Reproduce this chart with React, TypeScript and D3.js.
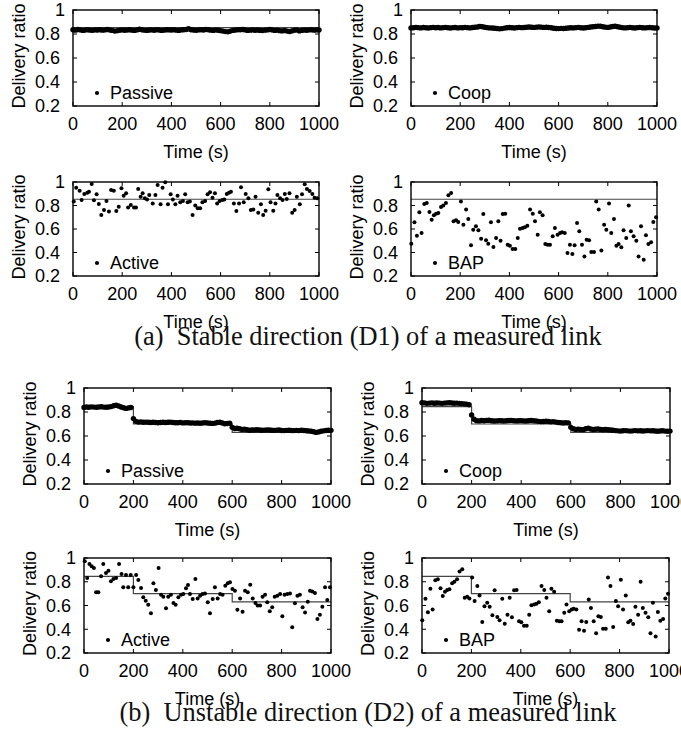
import React from "react";
import * as d3 from "d3";

// ---------- DATA ----------
const xTicks = [0, 200, 400, 600, 800, 1000];
const yTicks = [0.2, 0.4, 0.6, 0.8, 1];
const yTickLabels = ["0.2", "0.4", "0.6", "0.8", "1"];
const xDomain = [0, 1000];
const yDomain = [0.2, 1];
const sampleStep = 10; // seconds between dense samples

// Stable direction (D1): true delivery ratio
const trueD1 = [
  [0, 0.853],
  [1000, 0.853],
];
// Unstable direction (D2): true delivery ratio steps
const trueD2 = [
  [0, 0.845],
  [200, 0.7],
  [600, 0.63],
  [1000, 0.63],
];

const passiveD1 = [
  0.835, 0.832, 0.838, 0.834, 0.83, 0.833, 0.836, 0.832, 0.831, 0.834,
  0.833, 0.835, 0.832, 0.834, 0.838, 0.833, 0.83, 0.824, 0.828, 0.832,
  0.834, 0.831, 0.833, 0.835, 0.832, 0.83, 0.834, 0.84, 0.835, 0.832,
  0.83, 0.833, 0.834, 0.831, 0.835, 0.833, 0.83, 0.832, 0.836, 0.834,
  0.833, 0.835, 0.832, 0.83, 0.834, 0.836, 0.838, 0.844, 0.836, 0.833,
  0.831, 0.834, 0.836, 0.833, 0.838, 0.835, 0.832, 0.83, 0.834, 0.831,
  0.828, 0.824, 0.82, 0.818, 0.824, 0.83, 0.833, 0.835, 0.836, 0.838,
  0.834, 0.83, 0.832, 0.834, 0.831, 0.833, 0.83, 0.829, 0.832, 0.834,
  0.837, 0.834, 0.83, 0.832, 0.828, 0.826, 0.829, 0.824, 0.82, 0.826,
  0.832, 0.834, 0.826, 0.83, 0.833, 0.831, 0.834, 0.836, 0.832, 0.834, 0.833,
];

const coopD1 = [
  0.85, 0.852, 0.855, 0.853, 0.851, 0.854, 0.852, 0.85, 0.853, 0.855,
  0.852, 0.854, 0.851, 0.853, 0.855, 0.852, 0.85, 0.853, 0.854, 0.851,
  0.853, 0.852, 0.855, 0.853, 0.851, 0.854, 0.856, 0.858, 0.862, 0.86,
  0.856, 0.853, 0.851, 0.85, 0.848, 0.846, 0.843, 0.845, 0.849, 0.852,
  0.854, 0.852, 0.85, 0.853, 0.855, 0.853, 0.854, 0.856, 0.858, 0.856,
  0.855, 0.857, 0.859, 0.857, 0.855, 0.856, 0.854, 0.852, 0.848, 0.846,
  0.845, 0.847, 0.846, 0.848, 0.85, 0.852, 0.851, 0.853, 0.855, 0.852,
  0.85, 0.852, 0.855, 0.858, 0.86, 0.863, 0.866, 0.864, 0.86, 0.857,
  0.855, 0.858, 0.862, 0.864, 0.86, 0.856, 0.853, 0.851, 0.853, 0.855,
  0.852, 0.85, 0.853, 0.855, 0.852, 0.851, 0.853, 0.854, 0.852, 0.85, 0.851,
];

const activeD1 = [
  [3, 0.833], [13, 0.952], [27, 0.926], [35, 0.847], [46, 0.898], [58, 0.909],
  [65, 0.918], [76, 0.983], [85, 0.844], [96, 0.895], [105, 0.813], [115, 0.719],
  [126, 0.762], [136, 0.838], [146, 0.748], [155, 0.932], [166, 0.926], [176, 0.753],
  [186, 0.79], [197, 0.946], [206, 0.884], [216, 0.904], [224, 0.782], [235, 0.804],
  [248, 0.782], [256, 0.782], [265, 0.941], [275, 0.875], [283, 0.904], [292, 0.861],
  [301, 0.852], [310, 0.889], [324, 0.816], [335, 0.889], [344, 0.974], [356, 0.81],
  [364, 0.952], [375, 0.997], [386, 0.81], [397, 0.895], [406, 0.852], [416, 0.81],
  [425, 0.884], [436, 0.827], [447, 0.838], [456, 0.895], [466, 0.827], [475, 0.833],
  [486, 0.719], [497, 0.799], [507, 0.776], [517, 0.776], [526, 0.827], [537, 0.838],
  [547, 0.895], [557, 0.912], [567, 0.867], [577, 0.904], [586, 0.818], [596, 0.838],
  [607, 0.847], [615, 0.852], [625, 0.898], [634, 0.909], [642, 0.918], [654, 0.818],
  [664, 0.753], [675, 0.818], [683, 0.955], [694, 0.827], [702, 0.898], [713, 0.861],
  [723, 0.762], [733, 0.767], [742, 0.875], [753, 0.739], [764, 0.81], [773, 0.719],
  [783, 0.756], [794, 0.938], [803, 0.827], [814, 0.756], [823, 0.818], [831, 0.889],
  [842, 0.861], [852, 0.847], [861, 0.898], [869, 0.855], [880, 0.904], [891, 0.739],
  [901, 0.762], [910, 0.875], [922, 0.81], [931, 0.895], [942, 0.98], [951, 0.94],
  [962, 0.923], [973, 0.898], [982, 0.867], [993, 0.861],
];

const bap = [
  [1, 0.475], [14, 0.657], [24, 0.543], [34, 0.742], [43, 0.566], [54, 0.813],
  [64, 0.821], [75, 0.745], [84, 0.679], [93, 0.716], [102, 0.73], [111, 0.736],
  [122, 0.787], [131, 0.799], [142, 0.821], [152, 0.887], [163, 0.906], [173, 0.665],
  [183, 0.674], [192, 0.66], [203, 0.835], [213, 0.637], [224, 0.765], [233, 0.685],
  [244, 0.461], [253, 0.594], [264, 0.623], [274, 0.589], [285, 0.518], [294, 0.728],
  [305, 0.504], [314, 0.475], [325, 0.657], [335, 0.447], [346, 0.523], [355, 0.665],
  [364, 0.501], [373, 0.728], [383, 0.73], [393, 0.467], [402, 0.458], [413, 0.43],
  [424, 0.43], [434, 0.523], [443, 0.603], [454, 0.608], [463, 0.614], [473, 0.628],
  [484, 0.765], [495, 0.73], [504, 0.665], [515, 0.552], [524, 0.742], [535, 0.716],
  [546, 0.472], [556, 0.467], [565, 0.467], [576, 0.538], [585, 0.608], [596, 0.552],
  [606, 0.566], [614, 0.572], [625, 0.566], [636, 0.396], [646, 0.467], [656, 0.387],
  [665, 0.461], [675, 0.651], [684, 0.58], [695, 0.467], [705, 0.367], [714, 0.509],
  [724, 0.504], [733, 0.404], [744, 0.404], [753, 0.835], [763, 0.765], [774, 0.418],
  [785, 0.637], [794, 0.594], [805, 0.816], [814, 0.566], [825, 0.685], [835, 0.458],
  [844, 0.472], [855, 0.444], [864, 0.589], [875, 0.523], [885, 0.799], [894, 0.58],
  [905, 0.538], [916, 0.501], [925, 0.367], [935, 0.623], [946, 0.339], [955, 0.546],
  [965, 0.472], [976, 0.487], [985, 0.66], [996, 0.699],
];

const passiveD2 = [
  0.838, 0.842, 0.84, 0.843, 0.841, 0.84, 0.842, 0.844, 0.841, 0.84,
  0.842, 0.845, 0.852, 0.856, 0.85, 0.842, 0.836, 0.83, 0.834, 0.838,
  0.745, 0.722, 0.716, 0.718, 0.714, 0.716, 0.715, 0.713, 0.715, 0.712,
  0.711, 0.713, 0.714, 0.712, 0.715, 0.716, 0.713, 0.711, 0.71, 0.712,
  0.709, 0.711, 0.71, 0.708, 0.709, 0.707, 0.708, 0.706, 0.708, 0.71,
  0.708, 0.706, 0.705, 0.707, 0.712, 0.714, 0.708, 0.702, 0.704, 0.706,
  0.672, 0.662, 0.664, 0.66, 0.655, 0.657, 0.653, 0.648, 0.651, 0.65,
  0.652, 0.65, 0.648, 0.649, 0.651, 0.65, 0.648, 0.647, 0.649, 0.65,
  0.646, 0.645, 0.647, 0.648, 0.646, 0.645, 0.647, 0.645, 0.648, 0.646,
  0.644, 0.642, 0.64, 0.636, 0.63, 0.634, 0.64, 0.643, 0.646, 0.648, 0.647,
];

const coopD2 = [
  0.878, 0.876, 0.872, 0.874, 0.876, 0.873, 0.875, 0.874, 0.872, 0.874,
  0.876, 0.877, 0.875, 0.873, 0.874, 0.872, 0.87, 0.868, 0.866, 0.86,
  0.775, 0.74, 0.728, 0.726, 0.729, 0.727, 0.73, 0.731, 0.727, 0.725,
  0.726, 0.728, 0.727, 0.725, 0.727, 0.729, 0.73, 0.728, 0.726, 0.727,
  0.728, 0.726, 0.725, 0.727, 0.729, 0.727, 0.725, 0.722, 0.72, 0.721,
  0.723, 0.721, 0.718, 0.72, 0.716, 0.712, 0.71, 0.708, 0.711, 0.709,
  0.672, 0.66, 0.655, 0.657, 0.654, 0.653, 0.66, 0.666, 0.658, 0.654,
  0.656, 0.658, 0.655, 0.652, 0.654, 0.652, 0.65, 0.648, 0.645, 0.643,
  0.641, 0.644, 0.645, 0.643, 0.641, 0.643, 0.645, 0.643, 0.644, 0.642,
  0.643, 0.645, 0.643, 0.644, 0.642, 0.64, 0.642, 0.644, 0.641, 0.64, 0.641,
];

const activeD2 = [
  [3, 0.972], [13, 0.832], [22, 0.949], [31, 0.93], [40, 0.916], [49, 0.711],
  [58, 0.711], [69, 0.846], [78, 0.949], [89, 0.874], [99, 0.893], [109, 0.804],
  [119, 0.823], [130, 0.832], [142, 0.949], [152, 0.865], [159, 0.753], [170, 0.857],
  [179, 0.753], [189, 0.857], [200, 0.753], [211, 0.857], [220, 0.815], [231, 0.747],
  [240, 0.669], [250, 0.641], [260, 0.607], [271, 0.534], [281, 0.787], [291, 0.731],
  [302, 0.916], [312, 0.691], [321, 0.674], [332, 0.576], [341, 0.674], [352, 0.691],
  [362, 0.621], [371, 0.607], [382, 0.669], [393, 0.691], [402, 0.697], [413, 0.745],
  [421, 0.773], [429, 0.697], [440, 0.655], [451, 0.823], [460, 0.66], [470, 0.683],
  [480, 0.697], [490, 0.702], [501, 0.627], [510, 0.534], [521, 0.655], [530, 0.753],
  [541, 0.66], [551, 0.697], [561, 0.691], [572, 0.767], [582, 0.787], [591, 0.795],
  [601, 0.739], [611, 0.725], [621, 0.565], [632, 0.66], [642, 0.548], [652, 0.725],
  [663, 0.711], [673, 0.775], [683, 0.66], [694, 0.621], [703, 0.599], [713, 0.599],
  [723, 0.674], [733, 0.691], [742, 0.627], [752, 0.551], [762, 0.585], [772, 0.674],
  [783, 0.683], [794, 0.697], [803, 0.509], [812, 0.691], [823, 0.697], [834, 0.702],
  [843, 0.416], [854, 0.618], [864, 0.683], [874, 0.691], [885, 0.585], [895, 0.542],
  [906, 0.632], [915, 0.725], [924, 0.717], [935, 0.705], [945, 0.486], [955, 0.523],
  [965, 0.59], [976, 0.753], [985, 0.646], [996, 0.753],
];

const captionA = "(a)\u00a0\u00a0Stable direction (D1) of a measured link";
const captionB = "(b)\u00a0\u00a0Unstable direction (D2) of a measured link";
const yLabel = "Delivery ratio";
const xLabel = "Time (s)";

// ---------- helpers ----------
const dense = (vals: number[]) => vals.map((v, i) => [i * sampleStep, v]);

const SANS = "'Liberation Sans', Arial, Helvetica, sans-serif";
const SERIF = "'Liberation Serif', 'Times New Roman', serif";
const FS = 18;

type PanelProps = {
  left: number;
  right: number;
  top: number;
  bottom: number;
  points: number[][];
  truth: number[][];
  step: boolean;
  name: string;
  r: number;
};

function Panel({ left, right, top, bottom, points, truth, step, name, r }: PanelProps) {
  const x = d3.scaleLinear().domain(xDomain).range([left, right]);
  const y = d3.scaleLinear().domain(yDomain).range([bottom, top]);
  const line = d3
    .line<number[]>()
    .x((d) => x(d[0]))
    .y((d) => y(d[1]))
    .curve(step ? d3.curveStepAfter : d3.curveLinear);
  const tl = 4;
  return (
    <g>
      <path d={line(truth) || ""} fill="none" stroke="#444" strokeWidth={1.2} />
      {points.map((p, i) => (
        <circle key={i} cx={x(p[0])} cy={y(p[1])} r={r} fill="#000" />
      ))}
      <rect
        x={left}
        y={top}
        width={right - left}
        height={bottom - top}
        fill="none"
        stroke="#000"
        strokeWidth={1.4}
      />
      {xTicks.map((t) => (
        <g key={"xt" + t}>
          <line x1={x(t)} x2={x(t)} y1={bottom} y2={bottom - tl} stroke="#000" />
          <line x1={x(t)} x2={x(t)} y1={top} y2={top + tl} stroke="#000" />
          <text
            x={x(t)}
            y={bottom + 24}
            textAnchor="middle"
            fontFamily={SANS}
            fontSize={FS}
          >
            {t}
          </text>
        </g>
      ))}
      {yTicks.map((t, i) => (
        <g key={"yt" + t}>
          <line x1={left} x2={left + tl} y1={y(t)} y2={y(t)} stroke="#000" />
          <line x1={right} x2={right - tl} y1={y(t)} y2={y(t)} stroke="#000" />
          <text
            x={left - 8 - yTickLabels[i].length * 0.556 * FS}
            y={y(t)}
            dy="0.36em"
            textAnchor="start"
            fontFamily={SANS}
            fontSize={FS}
          >
            {yTickLabels[i]}
          </text>
        </g>
      ))}
      <text
        transform={`translate(${left - 48},${(top + bottom) / 2 - 2}) rotate(-90)`}
        textAnchor="middle"
        fontFamily={SANS}
        fontSize={FS}
      >
        {yLabel}
      </text>
      <text
        x={(left + right) / 2}
        y={bottom + 52}
        textAnchor="middle"
        fontFamily={SANS}
        fontSize={FS}
      >
        {xLabel}
      </text>
      <circle cx={left + 24} cy={bottom - 13} r={2.1} fill="#000" />
      <text x={left + 37} y={bottom - 7} fontFamily={SANS} fontSize={FS}>
        {name}
      </text>
    </g>
  );
}

export default function App() {
  const panels: PanelProps[] = [
    { left: 73, right: 319, top: 10, bottom: 106, points: dense(passiveD1), truth: trueD1, step: false, name: "Passive", r: 2.7 },
    { left: 411, right: 657, top: 10, bottom: 106, points: dense(coopD1), truth: trueD1, step: false, name: "Coop", r: 2.7 },
    { left: 73, right: 319, top: 182, bottom: 276, points: activeD1, truth: trueD1, step: false, name: "Active", r: 2.0 },
    { left: 411, right: 657, top: 182, bottom: 276, points: bap, truth: trueD1, step: false, name: "BAP", r: 2.0 },
    { left: 84, right: 331, top: 388, bottom: 484, points: dense(passiveD2), truth: trueD2, step: true, name: "Passive", r: 2.7 },
    { left: 422, right: 670, top: 388, bottom: 484, points: dense(coopD2), truth: trueD2, step: true, name: "Coop", r: 2.7 },
    { left: 84, right: 331, top: 558, bottom: 653, points: activeD2, truth: trueD2, step: true, name: "Active", r: 2.0 },
    { left: 422, right: 669, top: 558, bottom: 653, points: bap, truth: trueD2, step: true, name: "BAP", r: 2.0 },
  ];
  return (
    <svg
      width={681}
      height={732}
      style={{ position: "absolute", left: 0, top: 0, background: "#fff" }}
    >
      <rect x={0} y={0} width={681} height={732} fill="#fff" />
      {panels.map((p, i) => (
        <Panel key={i} {...p} />
      ))}
      <text x={368} y={345} textAnchor="middle" fontFamily={SERIF} fontSize={26.4} fill="#111">
        {captionA}
      </text>
      <text x={368} y={721} textAnchor="middle" fontFamily={SERIF} fontSize={26.4} fill="#111">
        {captionB}
      </text>
    </svg>
  );
}
